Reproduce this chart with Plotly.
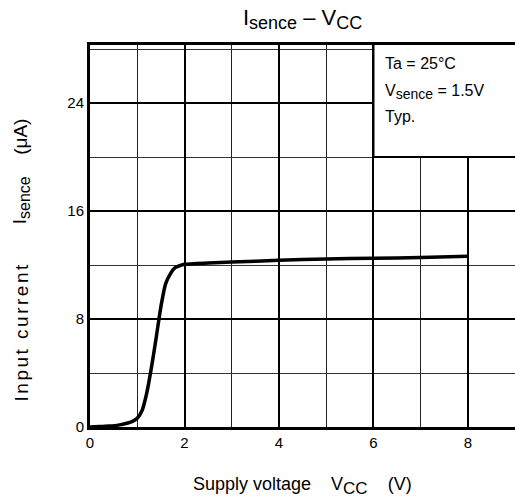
import plotly.graph_objects as go

vcc = [0, 0.2, 0.4, 0.6, 0.8, 0.9, 1.0, 1.1, 1.2, 1.3, 1.4, 1.5, 1.6, 1.7, 1.8, 1.9, 2.0, 2.5, 3, 4, 5, 6, 7, 8]
isence = [0, 0.03, 0.07, 0.14, 0.3, 0.42, 0.65, 1.2, 2.5, 4.4, 6.6, 8.9, 10.6, 11.35, 11.8, 11.95, 12.05, 12.15, 12.22, 12.35, 12.45, 12.5, 12.56, 12.65]
x_ticks = [0, 2, 4, 6, 8]
y_ticks = [0, 8, 16, 24]
legend_lines = ["Ta = 25°C",
                "V<sub><span style='font-size:14px'>sence</span></sub> = 1.5V",
                "Typ."]
legend_y = [26.9, 24.85, 23.0]
y_title_parts = ["<span style='letter-spacing:2.5px'>Input current</span>",
                 "I<sub><span style='font-size:16px'>sence</span></sub>", "(μA)"]
y_title_pos = [0.248, 0.594, 0.76]

FONT = "Liberation Sans, Arial, sans-serif"

fig = go.Figure()
fig.add_trace(go.Scatter(x=vcc, y=isence, mode="lines",
                         line=dict(color="black", width=3.5, shape="spline", smoothing=0.6),
                         hoverinfo="skip", showlegend=False))

fig.update_layout(
    width=515, height=504,
    margin=dict(l=90, r=0, t=45, b=77),
    paper_bgcolor="white", plot_bgcolor="white",
    font=dict(family=FONT, color="black", size=15),
    title=dict(text="I<sub><span style='font-size:18px'>sence</span></sub> – V<sub><span style='font-size:18px'>CC</span></sub>",
               x=0.5875, xanchor="center",
               y=0.966, yanchor="middle", font=dict(size=22, family=FONT)),
    showlegend=False,
)
fig.update_xaxes(range=[0, 8.995], tickvals=x_ticks, ticks="", showline=True, linecolor="black",
                 linewidth=3, mirror=True, showgrid=True, gridcolor="black", gridwidth=2,
                 zeroline=False, dtick=2,
                 minor=dict(dtick=1, showgrid=True, gridcolor="#222", gridwidth=1.3),
                 tickfont=dict(size=15, family=FONT))
fig.update_yaxes(range=[0, 28.3], tickvals=y_ticks, ticks="", showline=True, linecolor="black",
                 linewidth=3, mirror=False, showgrid=True, gridcolor="black", gridwidth=1.6,
                 zeroline=False, dtick=8,
                 minor=dict(dtick=4, showgrid=True, gridcolor="#333", gridwidth=1.2),
                 tickfont=dict(size=15, family=FONT))

fig.add_shape(type="rect", xref="x", yref="y", x0=6, x1=9.2, y0=20, y1=28.6,
              fillcolor="white", line=dict(color="black", width=2), layer="above")

for t, yy in zip(legend_lines, legend_y):
    fig.add_annotation(x=6.2, y=yy, xref="x", yref="y", text=t, showarrow=False,
                       xanchor="left", yanchor="middle", font=dict(size=16, family=FONT))

fig.add_annotation(text="Supply voltage\u00a0\u00a0\u00a0\u00a0V<sub><span style='font-size:17px'>CC</span></sub>\u00a0\u00a0\u00a0\u00a0(V)",
                   xref="paper", yref="paper", x=0.5, y=-0.155, xanchor="center", yanchor="middle",
                   showarrow=False, font=dict(size=18, family=FONT))
for t, yy in zip(y_title_parts, y_title_pos):
    fig.add_annotation(text=t, xref="paper", yref="paper", x=-0.162, y=yy,
                       xanchor="center", yanchor="middle", textangle=-90, showarrow=False,
                       font=dict(size=19, family=FONT))

fig.write_html("out.html")
